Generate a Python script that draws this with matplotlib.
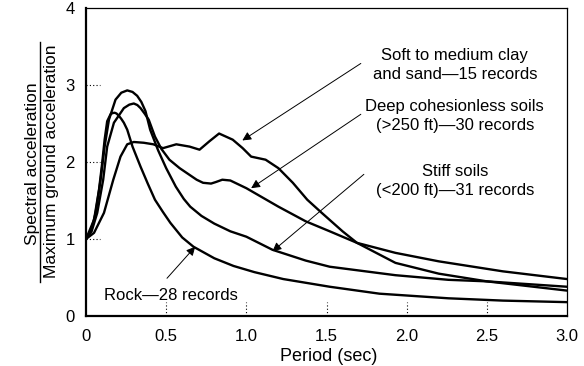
import matplotlib
matplotlib.use("Agg")
import matplotlib.pyplot as plt
from matplotlib.lines import Line2D

plt.rcParams['font.family'] = ['Liberation Sans', 'DejaVu Sans']

# values (period in sec, normalised spectral acceleration)
rock_t = [0, 0.05, 0.081, 0.101, 0.116, 0.132, 0.153, 0.165, 0.178, 0.19, 0.205, 0.22, 0.236,
          0.257, 0.29, 0.34, 0.385, 0.43, 0.48, 0.526, 0.6, 0.67, 0.8, 0.92, 1.05, 1.23, 1.52,
          1.83, 2.26, 2.6, 3.0]
rock_sa = [1, 1.25, 1.64, 1.99, 2.29, 2.53, 2.62, 2.635, 2.64, 2.63, 2.60, 2.56, 2.51,
           2.42, 2.2, 1.94, 1.72, 1.51, 1.35, 1.21, 1.02, 0.90, 0.75, 0.65, 0.57, 0.48, 0.38,
           0.29, 0.23, 0.2, 0.18]

stiff_t = [0, 0.03, 0.06, 0.091, 0.116, 0.143, 0.184, 0.22, 0.257, 0.29, 0.319, 0.345, 0.371,
           0.4, 0.45, 0.5, 0.56, 0.61, 0.65, 0.72, 0.8, 0.9, 1.0, 1.163, 1.37, 1.52, 1.93, 2.26,
           2.5, 3.0]
stiff_sa = [1, 1.1, 1.34, 1.77, 2.20, 2.55, 2.81, 2.9, 2.93, 2.91, 2.86, 2.78, 2.66,
            2.42, 2.15, 1.92, 1.68, 1.52, 1.42, 1.30, 1.2, 1.1, 1.03, 0.86, 0.72, 0.64, 0.53, 0.47,
            0.45, 0.38]

deep_t = [0, 0.035, 0.07, 0.107, 0.132, 0.174, 0.236, 0.27, 0.298, 0.32, 0.34, 0.365, 0.391,
          0.43, 0.47, 0.52, 0.584, 0.69, 0.73, 0.78, 0.81, 0.85, 0.9, 1.0, 1.2, 1.37, 1.52, 1.69,
          1.93, 2.2, 2.6, 3.0]
deep_sa = [1, 1.1, 1.34, 1.77, 2.20, 2.51, 2.70, 2.745, 2.76, 2.74, 2.70, 2.63, 2.55,
           2.33, 2.17, 2.03, 1.92, 1.77, 1.73, 1.72, 1.74, 1.77, 1.76, 1.66, 1.42, 1.23, 1.10, 0.95,
           0.82, 0.71, 0.58, 0.48]

soft_t = [0, 0.05, 0.112, 0.17, 0.215, 0.257, 0.298, 0.36, 0.42, 0.48, 0.563, 0.646, 0.708,
          0.77, 0.83, 0.915, 0.977, 1.03, 1.12, 1.2, 1.29, 1.38, 1.47, 1.6, 1.69, 1.93, 2.2,
          2.5, 3.0]
soft_sa = [1, 1.08, 1.34, 1.77, 2.07, 2.23, 2.26, 2.25, 2.23, 2.18, 2.23, 2.20, 2.16,
           2.27, 2.37, 2.29, 2.18, 2.07, 2.03, 1.92, 1.73, 1.51, 1.34, 1.10, 0.95, 0.69, 0.55,
           0.45, 0.33]

x_ticks = [0, 0.5, 1.0, 1.5, 2.0, 2.5, 3.0]
x_labels = ['0', '0.5', '1.0', '1.5', '2.0', '2.5', '3.0']
y_ticks = [0, 1, 2, 3, 4]

# label text, arrow tail (text side) and arrow head on the curve
notes = [
    ("Soft to medium clay\nand sand\u201415 records", (2.30, 3.255), (1.714, 3.28), (0.975, 2.28)),
    ("Deep cohesionless soils\n(>250 ft)\u201430 records", (2.30, 2.60), (1.714, 2.62), (1.03, 1.66)),
    ("Stiff soils\n(<200 ft)\u201431 records", (2.30, 1.75), (1.733, 1.84), (1.163, 0.84)),
]

fig = plt.figure(figsize=(5.84, 3.66), dpi=100)
ax = fig.add_axes([0.1473, 0.1366, 0.8236, 0.8415])

for t, sa in [(rock_t, rock_sa), (stiff_t, stiff_sa), (deep_t, deep_sa), (soft_t, soft_sa)]:
    ax.plot(t, sa, color='black', lw=1.7, solid_capstyle='round', solid_joinstyle='round')

ax.set_xlim(0, 3.0)
ax.set_ylim(0, 4.0)
ax.set_xticks(x_ticks)
ax.set_xticklabels(x_labels)
ax.set_yticks(y_ticks)
ax.tick_params(length=0, labelsize=12)
ax.tick_params(axis='x', pad=9)
ax.tick_params(axis='y', pad=8)

# little dotted inner ticks
for yt in y_ticks[1:-1]:
    ax.plot([0, 0.09], [yt, yt], ls=(0, (1, 2)), color='black', lw=0.8)
for xt in x_ticks[1:-1]:
    ax.plot([xt, xt], [0, 0.18], ls=(0, (1, 2)), color='black', lw=0.8)

for side in ['left', 'bottom']:
    ax.spines[side].set_linewidth(1.6)
for side in ['top', 'right']:
    ax.spines[side].set_linewidth(0.9)

for text, pos, tail, head in notes:
    ax.text(pos[0], pos[1], text, ha='center', va='center', fontsize=12, linespacing=1.35)
    ax.annotate('', xy=head, xytext=tail,
                arrowprops=dict(arrowstyle='-|>', lw=0.7, color='black',
                                mutation_scale=13, shrinkA=0, shrinkB=0))

ax.text(0.53, 0.27, "Rock\u201428 records", ha='center', va='center', fontsize=12)
ax.annotate('', xy=(0.681, 0.90), xytext=(0.505, 0.49),
            arrowprops=dict(arrowstyle='-|>', lw=0.7, color='black',
                            mutation_scale=13, shrinkA=0, shrinkB=0))

# y label written as a fraction
fig.text(0.0557, 0.553, "Spectral acceleration", rotation=90, ha='center', va='center', fontsize=12.5)
fig.text(0.0882, 0.559, "Maximum ground acceleration", rotation=90, ha='center', va='center', fontsize=12.5)
fig.add_artist(Line2D([0.0685, 0.0685], [0.2295, 0.885], color='black', lw=1.0))

fig.text(0.5625, 0.027, "Period (sec)", ha='center', va='center', fontsize=13)

fig.savefig('out.png', dpi=100)
